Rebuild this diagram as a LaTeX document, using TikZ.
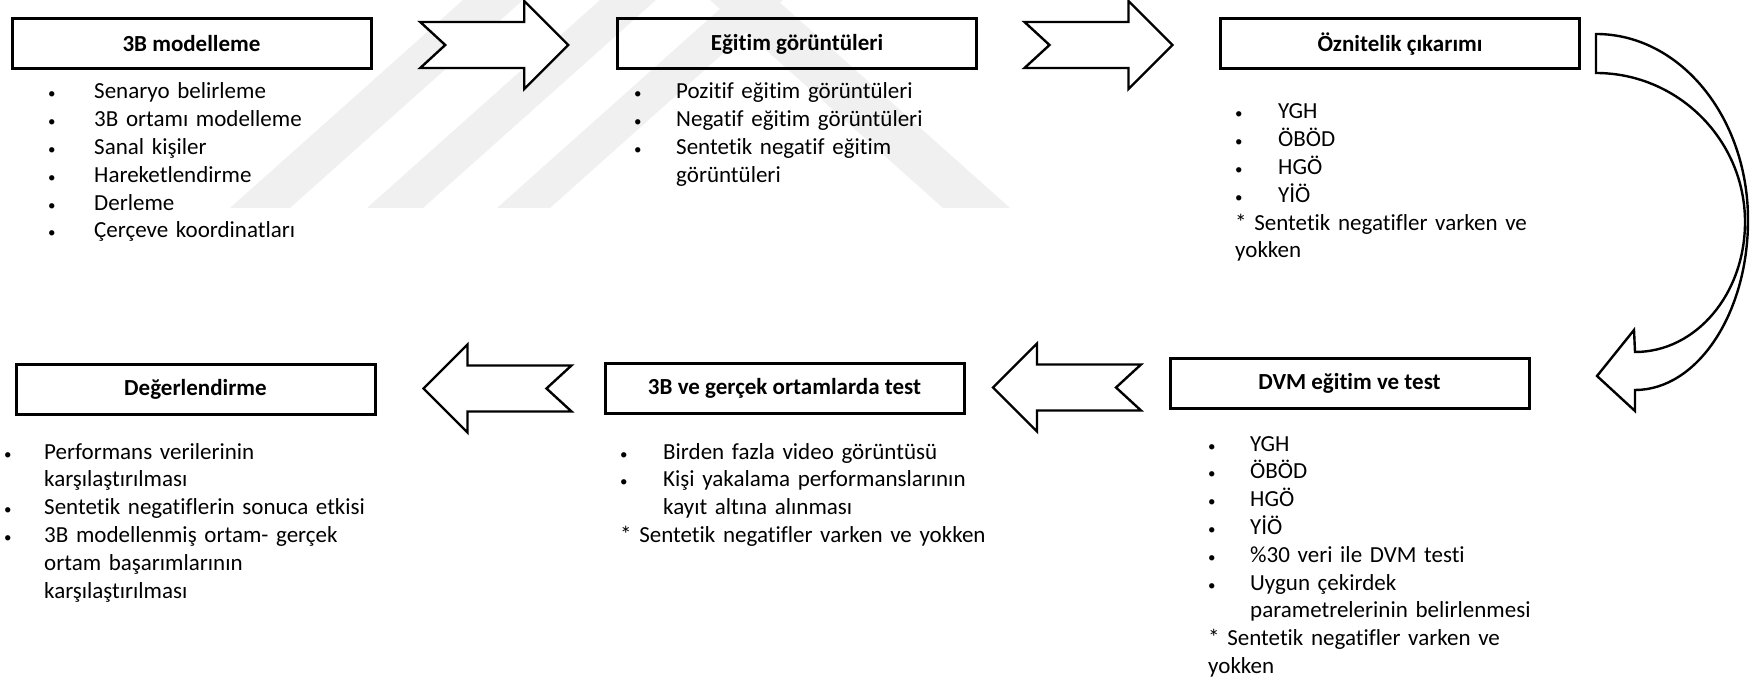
\documentclass[tikz,border=0pt]{standalone}
\usepackage{fontspec}
\setmainfont{Carlito}[Ligatures=NoCommon]
\usetikzlibrary{calc}

% small list bullet with a fixed hanging indent, and the matching indent for wrapped lines
\newcommand{\smallbullet}{{\fontsize{15}{15}\selectfont •}}
\newcommand{\bul}[1][46pt]{\makebox[#1][l]{\smallbullet}}
\newcommand{\hang}[1][46pt]{\hspace*{#1}}

\tikzset{
  titlebox/.style={draw, line width=3pt, minimum width=359pt, minimum height=50pt,
    inner sep=0pt, font=\bfseries\fontsize{23}{28}\selectfont},
  listtext/.style={anchor=base west, inner sep=0pt, text width=460pt, align=left,
    font=\fontsize{23}{27.8}\selectfont},
  blockarrow/.style={draw, line width=2.4pt, line join=miter, fill=white},
  wmband/.style={fill=black!6},
  rblock/.pic={\draw[blockarrow] (-74,-23) -- (30,-23) -- (30,-44) -- (74,0) -- (30,44)
    -- (30,23) -- (-74,23) -- (-49,0) -- cycle;},
  lblock/.pic={\draw[blockarrow] (74,-23) -- (-30,-23) -- (-30,-44) -- (-74,0) -- (-30,44)
    -- (-30,23) -- (74,23) -- (49,0) -- cycle;},
}

\begin{document}
\begin{tikzpicture}[x=1pt, y=-1pt]
\useasboundingbox (0,0) rectangle (1755,684);

% faint striped emblem in the background
\fill[wmband] (230,208) -- (290,208) -- (523,0) -- (463,0) -- cycle;
\fill[wmband] (367,208) -- (423,208) -- (656,0) -- (600,0) -- cycle;
\fill[wmband] (497,208) -- (550,208) -- (783,0) -- (730,0) -- cycle;
\fill[wmband] (710,0) -- (777,0) -- (1010,208) -- (943,208) -- cycle;

% process steps
\node[titlebox] (b1) at (191.5,44) {3B modelleme};
\node[titlebox] (b2) at (797,44) {Eğitim görüntüleri};
\node[titlebox] (b3) at (1400,44) {Öznitelik çıkarımı};
\node[titlebox] (b4) at (1349.5,383) {DVM eğitim ve test};
\node[titlebox] (b5) at (784.5,388) {3B ve gerçek ortamlarda test};
\node[titlebox] (b6) at (195.5,389) {Değerlendirme};

% step details
\node[listtext] (l1) at (48,99) {\bul Senaryo belirleme\\
  \bul 3B ortamı modelleme\\
  \bul Sanal kişiler\\
  \bul Hareketlendirme\\
  \bul Derleme\\
  \bul Çerçeve koordinatları};
\node[listtext] (l2) at (634,99) {\bul[42pt]Pozitif eğitim görüntüleri\\
  \bul[42pt]Negatif eğitim görüntüleri\\
  \bul[42pt]Sentetik negatif eğitim\\
  \hang[42pt]görüntüleri};
\node[listtext] (l3) at (1235,119) {\bul[43pt]YGH\\
  \bul[43pt]ÖBÖD\\
  \bul[43pt]HGÖ\\
  \bul[43pt]YİÖ\\
  {*} Sentetik negatifler varken ve\\
  yokken};
\node[listtext] (l4) at (1208,451) {\bul[42pt]YGH\\
  \bul[42pt]ÖBÖD\\
  \bul[42pt]HGÖ\\
  \bul[42pt]YİÖ\\
  \bul[42pt]\%30 veri ile DVM testi\\
  \bul[42pt]Uygun çekirdek\\
  \hang[42pt]parametrelerinin belirlenmesi\\
  {*} Sentetik negatifler varken ve\\
  yokken};
\node[listtext] (l5) at (620,459) {\bul[43pt]Birden fazla video görüntüsü\\
  \bul[43pt]Kişi yakalama performanslarının\\
  \hang[43pt]kayıt altına alınması\\
  {*} Sentetik negatifler varken ve yokken};
\node[listtext] (l6) at (4,459) {\bul[40pt]Performans verilerinin\\
  \hang[40pt]karşılaştırılması\\
  \bul[40pt]Sentetik negatiflerin sonuca etkisi\\
  \bul[40pt]3B modellenmiş ortam- gerçek\\
  \hang[40pt]ortam başarımlarının\\
  \hang[40pt]karşılaştırılması};

% block arrows between the steps
\pic at ($(b1.east)!0.5!(b2.west)+(0,1)$) {rblock};
\pic at ($(b2.east)!0.5!(b3.west)+(0,1)$) {rblock};
\pic at ($(b5.east)!0.5!(b4.west)+(0,2)$) {lblock};
\pic at ($(b6.east)!0.533!(b5.west)$) {lblock};

% curved block arrow from the third step down to the fourth
\begin{scope}[shift={(b3.east)}]
  \draw[blockarrow] (15,-10) .. controls (99,-10) and (167,73) .. (167,176)
    .. controls (167,270) and (116,346) .. (54,346)
    -- (54,367) -- (16,332) -- (53,286) -- (54,308)
    .. controls (115,308) and (164,250) .. (164,178)
    .. controls (164,96) and (97,29) .. (15,29) -- cycle;
\end{scope}
\end{tikzpicture}
\end{document}
